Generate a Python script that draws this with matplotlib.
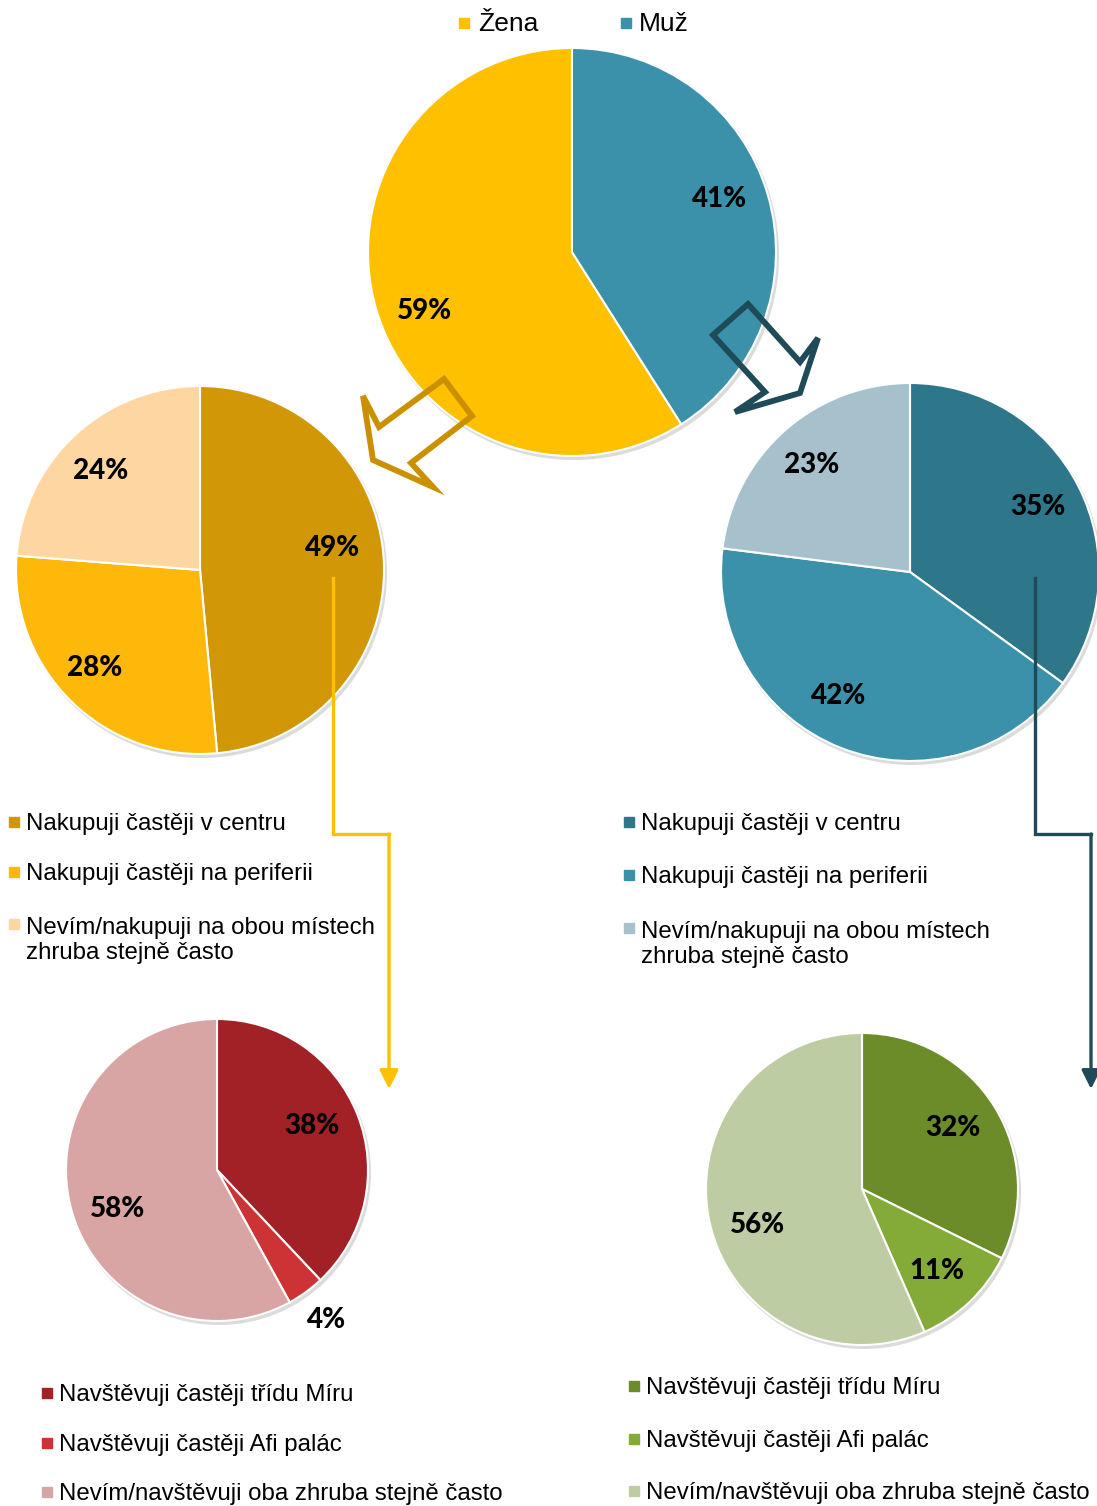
import numpy as np
import matplotlib.pyplot as plt
from matplotlib.patches import Circle, Polygon

W, H = 1097, 1506

# data
gender_labels = ['Žena', 'Muž']
gender_values = [59, 41]
gender_colors = ['#FFC000', '#3A91A9']

place_labels = ['Nakupuji častěji v centru', 'Nakupuji častěji na periferii',
                'Nevím/nakupuji na obou místech\nzhruba stejně často']
zena_place = [49, 28, 24]
muz_place = [35, 42, 23]
zena_place_colors = ['#D19707', '#FDB809', '#FED6A2']
muz_place_colors = ['#2E7689', '#3A91A9', '#A6C1CC']

street_labels = ['Navštěvuji častěji třídu Míru', 'Navštěvuji častěji Afi palác',
                 'Nevím/navštěvuji oba zhruba stejně často']
zena_street = [38, 4, 58]
muz_street = [32, 11, 56]
zena_street_colors = ['#A12126', '#CD3335', '#D9A4A4']
muz_street_colors = ['#6B8C29', '#84AA38', '#BDCCA2']

fig = plt.figure(figsize=(W / 100, H / 100), dpi=100)
ax = fig.add_axes([0, 0, 1, 1])


def draw_pie(values, colors, cx, cy, r, dist, shift, counterclock=False):
    c = (cx, H - cy)
    ax.add_patch(Circle((c[0] + 2, c[1] - 3), r + 1, color='#9a9a9a',
                        alpha=0.35, lw=0, zorder=1))
    wedges, _ = ax.pie(values, colors=colors, center=c, radius=r,
                       startangle=90, counterclock=counterclock, frame=True,
                       wedgeprops=dict(edgecolor='white', linewidth=1.5, zorder=2))
    # label placement roughly like the original (near mid-angle of each slice)
    for w, v, d, s in zip(wedges, values, dist, shift):
        a = np.deg2rad((w.theta1 + w.theta2) / 2 + s)
        ax.text(c[0] + d * r * np.cos(a), c[1] + d * r * np.sin(a), f'{v}%',
                ha='center', va='center', fontsize=20, fontweight=900,
                family='Lato', color='black', zorder=5)


def legend(labels, colors, x, ys, size=17.3, gap=12):
    for lab, col, y in zip(labels, colors, ys):
        ax.plot(x, H - y, 's', color=col, ms=6.5, zorder=5)
        n = lab.count('\n')
        ax.text(x + gap, H - (y + 8 + 27 * n), lab, va='baseline', ha='left',
                fontsize=size, family='Liberation Sans', linespacing=1.15,
                color='black')


draw_pie(gender_values, gender_colors, 572, 252, 204, [0.78, 0.77], [5.5, 3.6],
         counterclock=True)
draw_pie(zena_place, zena_place_colors, 200, 570, 184, [0.73, 0.78, 0.76], [6.7, -2.4, 2.3])
draw_pie(muz_place, muz_place_colors, 910, 572, 189, [0.76, 0.76, 0.77], [0, -8.4, 1])
draw_pie(zena_street, zena_street_colors, 217, 1170, 151, [0.69, 1.23, 0.71], [3.4, 0, 6.9])
draw_pie(muz_street, muz_street_colors, 862, 1189, 156, [0.70, 0.71, 0.71], [2, -1.1, 7.2])

legend(gender_labels, gender_colors, 464, [23, 23], size=19, gap=14)
ax.lines[0].set_xdata([464])
ax.lines[1].set_xdata([626])
ax.texts[-1].set_x(639)
legend(place_labels, zena_place_colors, 14, [822, 872, 924])
legend(place_labels, muz_place_colors, 629, [822, 875, 928])
legend(street_labels, zena_street_colors, 47, [1393, 1443, 1492])
legend(street_labels, muz_street_colors, 634, [1386, 1439, 1491])

# hollow block arrows
gold_arrow = [(444, 379), (472, 416), (411, 463), (433, 487), (373, 460), (363, 396), (379, 427)]
teal_arrow = [(748, 304), (713, 335), (765, 392), (735, 412), (800, 393), (818, 338), (800, 362)]
for pts, col in [(gold_arrow, '#CA9000'), (teal_arrow, '#1F4A57')]:
    ax.add_patch(Polygon([(x, H - y) for x, y in pts], closed=True, fill=False,
                         edgecolor=col, lw=4.2, joinstyle='miter', zorder=6))

# elbow connector arrows
for x0, x1, col in [(333, 389, '#FFC000'), (1035, 1091, '#1F4A57')]:
    ax.plot([x0, x0, x1], [H - 578, H - 834, H - 834], color=col, lw=2.4,
            solid_joinstyle='miter', zorder=6)
    ax.annotate('', xy=(x1, H - 1089), xytext=(x1, H - 834),
                arrowprops=dict(arrowstyle='-|>', color=col, lw=2.4,
                                mutation_scale=28, shrinkA=0, shrinkB=0),
                zorder=6)

ax.set_xlim(0, W)
ax.set_ylim(0, H)
ax.axis('off')
fig.savefig('out.png', dpi=100)
